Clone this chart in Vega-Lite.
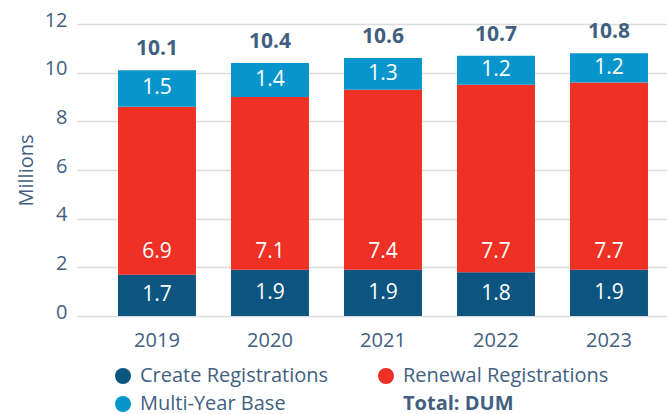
{
  "$schema": "https://vega.github.io/schema/vega-lite/v6.json",
  "width": 590,
  "height": 292,
  "autosize": {"type": "none"},
  "padding": {"left": 77, "top": 24, "right": 0, "bottom": 98},
  "background": "white",
  "config": {"font": "Open Sans", "view": {"stroke": null}},
  "datasets": {
    "segments": [
      {"year": "2019", "category": "Create Registrations", "value": 1.7, "order": 1},
      {"year": "2019", "category": "Renewal Registrations", "value": 6.9, "order": 2},
      {"year": "2019", "category": "Multi-Year Base", "value": 1.5, "order": 3},
      {"year": "2020", "category": "Create Registrations", "value": 1.9, "order": 1},
      {"year": "2020", "category": "Renewal Registrations", "value": 7.1, "order": 2},
      {"year": "2020", "category": "Multi-Year Base", "value": 1.4, "order": 3},
      {"year": "2021", "category": "Create Registrations", "value": 1.9, "order": 1},
      {"year": "2021", "category": "Renewal Registrations", "value": 7.4, "order": 2},
      {"year": "2021", "category": "Multi-Year Base", "value": 1.3, "order": 3},
      {"year": "2022", "category": "Create Registrations", "value": 1.8, "order": 1},
      {"year": "2022", "category": "Renewal Registrations", "value": 7.7, "order": 2},
      {"year": "2022", "category": "Multi-Year Base", "value": 1.2, "order": 3},
      {"year": "2023", "category": "Create Registrations", "value": 1.9, "order": 1},
      {"year": "2023", "category": "Renewal Registrations", "value": 7.7, "order": 2},
      {"year": "2023", "category": "Multi-Year Base", "value": 1.2, "order": 3}
    ],
    "totals": [
      {"year": "2019", "total": 10.1},
      {"year": "2020", "total": 10.4},
      {"year": "2021", "total": 10.6},
      {"year": "2022", "total": 10.7},
      {"year": "2023", "total": 10.8}
    ]
  },
  "layer": [
    {
      "data": {"name": "segments"},
      "mark": {"type": "bar"},
      "encoding": {
        "x": {
          "field": "year", "type": "ordinal",
          "scale": {"paddingInner": 0.31, "paddingOuter": 0.2655, "align": 0.683},
          "axis": {"title": null, "labelAngle": 0, "domain": false, "ticks": false, "labelPadding": 14, "labelFontSize": 20, "labelColor": "#41607f", "grid": false}
        },
        "y": {
          "field": "value", "type": "quantitative", "stack": "zero",
          "scale": {"domain": [0, 12], "nice": false},
          "axis": {"values": [0, 2, 4, 6, 8, 10, 12], "grid": true, "gridColor": "#dcdcdc", "gridWidth": 1.5, "domain": false, "ticks": false, "labelPadding": 10, "labelOffset": -4, "labelFontSize": 20, "labelColor": "#41607f", "title": "Millions", "titleFontSize": 20, "titleFontWeight": "normal", "titleColor": "#41607f", "titlePadding": 8}
        },
        "color": {
          "field": "category", "type": "nominal",
          "scale": {
            "domain": ["Create Registrations", "Renewal Registrations", "Multi-Year Base", "Total: DUM"],
            "range": ["#0b5580", "#ee3124", "#0795cc", "transparent"]
          },
          "legend": {
            "orient": "none", "legendX": 36, "legendY": 342, "columns": 2, "direction": "horizontal",
            "title": null, "symbolType": "circle", "symbolSize": 256, "symbolStrokeWidth": 0,
            "labelFontSize": 20, "labelColor": "#41607f", "labelOffset": 7, "labelLimit": 400,
            "rowPadding": 8, "columnPadding": 47,
            "encode": {"labels": {"update": {"fontWeight": {"signal": "datum.value === 'Total: DUM' ? 'bold' : 'normal'"}}}}
          }
        },
        "order": {"field": "order", "type": "quantitative"}
      }
    },
    {
      "data": {"name": "segments"},
      "transform": [
        {"stack": "value", "groupby": ["year"], "sort": [{"field": "order"}], "as": ["v0", "v1"]},
        {"calculate": "datum.category === 'Renewal Registrations' ? 2.65 : (datum.v0 + datum.v1) / 2", "as": "labelY"}
      ],
      "mark": {"type": "text", "color": "white", "fontSize": 21, "baseline": "middle"},
      "encoding": {
        "x": {"field": "year", "type": "ordinal"},
        "y": {"field": "labelY", "type": "quantitative"},
        "text": {"field": "value", "type": "quantitative", "format": ".1f"}
      }
    },
    {
      "data": {"name": "totals"},
      "mark": {"type": "text", "color": "#41607f", "fontSize": 21, "fontWeight": "bold", "baseline": "alphabetic", "dy": -15},
      "encoding": {
        "x": {"field": "year", "type": "ordinal"},
        "y": {"field": "total", "type": "quantitative"},
        "text": {"field": "total", "type": "quantitative", "format": ".1f"}
      }
    }
  ]
}
